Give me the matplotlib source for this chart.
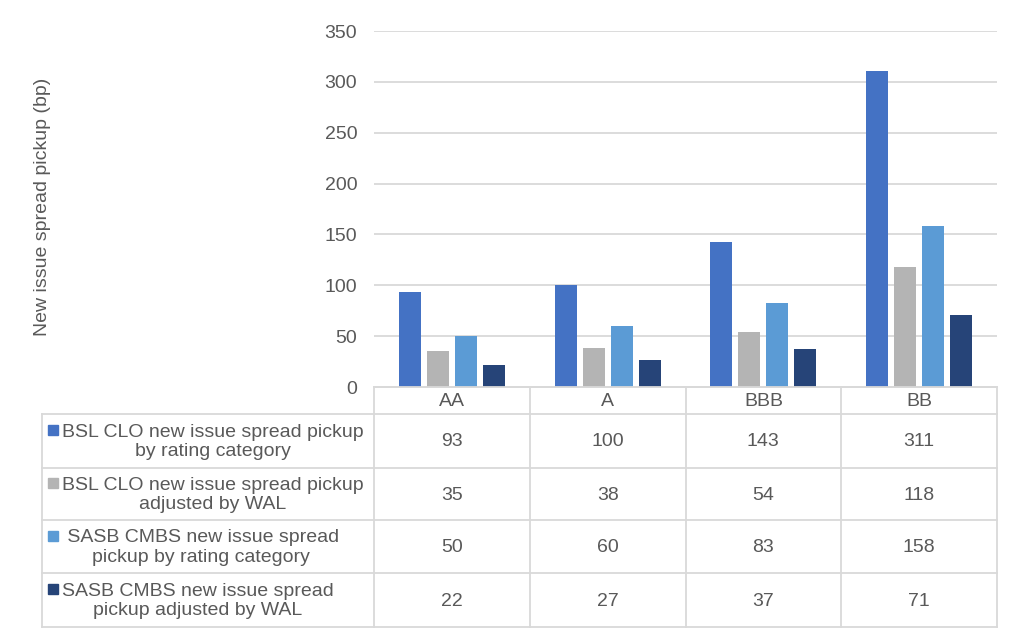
import matplotlib
matplotlib.use("Agg")
import matplotlib.pyplot as plt
from matplotlib.patches import Rectangle
import numpy as np

plt.rcParams['font.family'] = ['Liberation Sans', 'DejaVu Sans']

categories = ["AA", "A", "BBB", "BB"]
series_names = [
    "BSL CLO new issue spread pickup\nby rating category",
    "BSL CLO new issue spread pickup\nadjusted by WAL",
    " SASB CMBS new issue spread\npickup by rating category",
    "SASB CMBS new issue spread\npickup adjusted by WAL",
]
bsl_rating = [93, 100, 143, 311]
bsl_wal = [35, 38, 54, 118]
sasb_rating = [50, 60, 83, 158]
sasb_wal = [22, 27, 37, 71]
series_values = [bsl_rating, bsl_wal, sasb_rating, sasb_wal]
colors = ["#4472C4", "#B4B4B4", "#5B9BD5", "#264478"]
y_ticks = [0, 50, 100, 150, 200, 250, 300, 350]
y_label = "New issue spread pickup (bp)"

TXT = "#595959"
GRID = "#D9D9D9"
FS = 14
W, H = 1024, 639
fig = plt.figure(figsize=(W / 100, H / 100), dpi=100)

def fx(px):
    return px / W

def fy(py):
    return 1 - py / H

# main plot area
L, R, T, B = 374, 997, 31, 387
ax = fig.add_axes([fx(L), fy(B), fx(R - L), (B - T) / H])
x = np.arange(len(categories))
bw, step = 0.142, 0.18
for i, (vals, c) in enumerate(zip(series_values, colors)):
    ax.bar(x + (i - 1.5) * step, vals, width=bw, color=c, zorder=3)
ax.set_xlim(-0.5, len(categories) - 0.5)
ax.set_ylim(0, 350)
ax.set_yticks(y_ticks)
ax.set_yticklabels([str(t) for t in y_ticks], fontsize=FS, color=TXT)
ax.tick_params(axis='y', length=0, pad=12)
ax.set_xticks([])
ax.grid(axis='y', color=GRID, linewidth=1.3, zorder=0)
for s in ["top", "right", "left"]:
    ax.spines[s].set_visible(False)
ax.spines["bottom"].set_color(GRID)
ax.spines["bottom"].set_linewidth(1.3)
fig.text(fx(43), fy(207), y_label, rotation=90, ha='center', va='center',
         fontsize=FS, color=TXT)

# data table
TL, TT, TB = 42, 387, 627
tax = fig.add_axes([fx(TL), fy(TB), fx(R - TL), (TB - TT) / H])
tax.set_xlim(TL, R)
tax.set_ylim(TB, TT)
tax.axis('off')
row_edges = [414, 468, 520, 573, 627]
col_edges = [L + k * (R - L) / len(categories) for k in range(len(categories) + 1)]
lw = 1.3
tax.plot([L, L], [TT, TB], color=GRID, lw=lw, clip_on=False)
for ce in col_edges[1:]:
    tax.plot([ce, ce], [TT, TB], color=GRID, lw=lw, clip_on=False)
tax.plot([L, R], [TT, TT], color=GRID, lw=lw, clip_on=False)
tax.plot([TL, TL], [row_edges[0], TB], color=GRID, lw=lw, clip_on=False)
for re_ in row_edges:
    tax.plot([TL, R], [re_, re_], color=GRID, lw=lw, clip_on=False)
for j, cat in enumerate(categories):
    cx = (col_edges[j] + col_edges[j + 1]) / 2
    tax.text(cx, (TT + row_edges[0]) / 2 + 1, cat, ha='center', va='center',
             fontsize=FS, color=TXT)
for i in range(len(series_names)):
    y0, y1 = row_edges[i], row_edges[i + 1]
    cy = (y0 + y1) / 2
    tax.text(62, cy + 1, series_names[i], ha='left', va='center', multialignment='center',
             fontsize=FS, color=TXT, linespacing=1.22)
    tax.add_patch(Rectangle((48.5, cy - 11 - 5), 10, 10, color=colors[i]))
    for j in range(len(categories)):
        cx = (col_edges[j] + col_edges[j + 1]) / 2
        tax.text(cx, cy + 1, str(series_values[i][j]), ha='center', va='center',
                 fontsize=FS, color=TXT)

fig.savefig("out.png", dpi=100, facecolor='white')
